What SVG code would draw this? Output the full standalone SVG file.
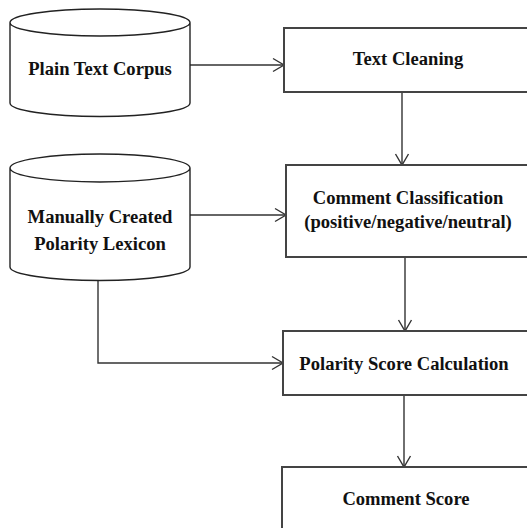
<svg xmlns="http://www.w3.org/2000/svg" width="527" height="528" viewBox="0 0 527 528">
  <defs>
    <marker id="arr" markerUnits="userSpaceOnUse" markerWidth="14" markerHeight="14" viewBox="-12 -7 13 14" refX="0" refY="0" orient="auto" overflow="visible">
      <path d="M-11,-6.5 L0,0 L-11,6.5" fill="none" stroke="#333" stroke-width="1.4"/>
    </marker>
  </defs>
  <style>
    .box { fill: #fff; stroke: #444; stroke-width: 2; }
    .cyl { fill: #fff; stroke: #222; stroke-width: 1.4; }
    .conn { fill: none; stroke: #333; stroke-width: 1.4; marker-end: url(#arr); }
    text { font-family: "Liberation Serif", "Times New Roman", serif; font-weight: bold; font-size: 18.6px; fill: #111; text-anchor: middle; }
  </style>
  <rect width="527" height="528" fill="#fff"/>

  <g id="connectors">
    <line class="conn" x1="190" y1="65" x2="284" y2="65"/>
    <line class="conn" x1="402" y1="92" x2="402" y2="165"/>
    <line class="conn" x1="190" y1="215" x2="286" y2="215"/>
    <line class="conn" x1="405" y1="257" x2="405" y2="331"/>
    <polyline class="conn" points="98,281 98,363 283,363"/>
    <line class="conn" x1="404" y1="395" x2="404" y2="467"/>
  </g>

  <g id="plain-text-corpus">
    <path class="cyl" d="M10,22.5 L10,103 A90,13.5 0 0 0 190,103 L190,22.5 A90,13.5 0 0 0 10,22.5 A90,13.5 0 0 0 190,22.5"/>
    <text x="100" y="75">Plain Text Corpus</text>
  </g>

  <g id="polarity-lexicon">
    <path class="cyl" d="M10,168 L10,267 A90,13.5 0 0 0 190,267 L190,168 A90,14 0 0 0 10,168 A90,14 0 0 0 190,168"/>
    <text x="100" y="223">Manually Created</text>
    <text x="100" y="250">Polarity Lexicon</text>
  </g>

  <g id="text-cleaning">
    <rect class="box" x="284" y="28" width="250" height="64"/>
    <text x="408" y="65">Text Cleaning</text>
  </g>

  <g id="comment-classification">
    <rect class="box" x="286" y="165" width="250" height="92"/>
    <text x="408" y="204">Comment Classification</text>
    <text x="408" y="228">(positive/negative/neutral)</text>
  </g>

  <g id="polarity-score">
    <rect class="box" x="283" y="331" width="250" height="64"/>
    <text x="404" y="370">Polarity Score Calculation</text>
  </g>

  <g id="comment-score">
    <rect class="box" x="282" y="467" width="250" height="70"/>
    <text x="406" y="505">Comment Score</text>
  </g>
</svg>
